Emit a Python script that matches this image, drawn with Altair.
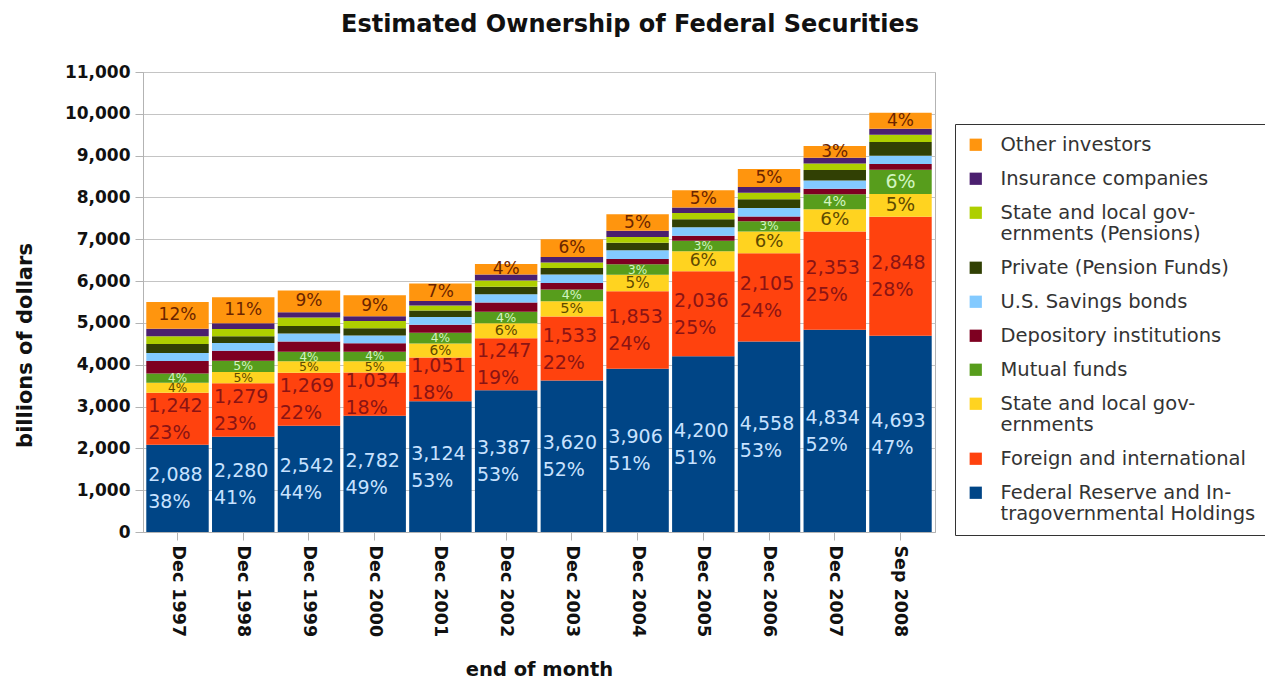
import altair as alt
import pandas as pd

dates = ["Dec 1997", "Dec 1998", "Dec 1999", "Dec 2000", "Dec 2001", "Dec 2002",
         "Dec 2003", "Dec 2004", "Dec 2005", "Dec 2006", "Dec 2007", "Sep 2008"]

# stacking order, bottom -> top
categories = [
    "Federal Reserve and In-\ntragovernmental Holdings",
    "Foreign and international",
    "State and local gov-\nernments",
    "Mutual funds",
    "Depository institutions",
    "U.S. Savings bonds",
    "Private (Pension Funds)",
    "State and local gov-\nernments (Pensions)",
    "Insurance companies",
    "Other investors",
]
colors = ["#004586", "#ff420e", "#ffd320", "#579d1c", "#7e0021",
          "#83caff", "#314004", "#aecf00", "#4b1f6f", "#ff950e"]

fed = [2088, 2280, 2542, 2782, 3124, 3387, 3620, 3906, 4200, 4558, 4834, 4693]
foreign = [1242, 1279, 1269, 1034, 1051, 1247, 1533, 1853, 2036, 2105, 2353, 2848]
state_local = [239, 269, 270, 270, 330, 355, 365, 390, 480, 520, 530, 540]
mutual = [222, 270, 230, 225, 260, 280, 280, 255, 250, 250, 360, 580]
depository = [300, 237, 247, 202, 189, 222, 154, 127, 117, 114, 130, 140]
savings = [187, 187, 186, 185, 190, 195, 204, 205, 205, 202, 197, 195]
private_pension = [219, 160, 185, 175, 150, 180, 160, 180, 190, 210, 250, 330]
state_pension = [186, 170, 200, 175, 124, 150, 130, 140, 150, 155, 160, 172]
insurance = [175, 142, 127, 114, 105, 140, 132, 150, 132, 136, 135, 147]
other = [644, 620, 520, 500, 420, 250, 420, 390, 410, 430, 280, 380]

series = [fed, foreign, state_local, mutual, depository, savings,
          private_pension, state_pension, insurance, other]

rows = []
for i, (cat, vals) in enumerate(zip(categories, series)):
    for d, v in zip(dates, vals):
        rows.append({"date": d, "category": cat, "value": v, "idx": i})
df = pd.DataFrame(rows)

legend_order = categories[::-1]
legend_colors = colors[::-1]

yscale = alt.Scale(domain=[0, 11000], nice=False)
xscale = alt.Scale(paddingInner=0.05, paddingOuter=0.05)

xaxis = alt.Axis(
    labelAngle=90, labelFont="DejaVu Sans", labelFontSize=17.5, labelFontWeight="bold",
    labelColor="#111111", tickSize=8, tickColor="#b3b3b3", domainColor="#b3b3b3",
    labelPadding=5, grid=False,
    titleFont="DejaVu Sans", titleFontSize=19.5, titleFontWeight="bold", titleColor="#111111",
    titleY=137, titleBaseline="middle",
)
yaxis = alt.Axis(
    values=list(range(0, 11001, 1000)), format=",d",
    labelFont="DejaVu Sans", labelFontSize=17, labelFontWeight="bold", labelColor="#111111",
    tickSize=8, tickColor="#b3b3b3", domainColor="#b3b3b3", gridColor="#c4c4c4",
    labelPadding=5,
    titleFont="DejaVu Sans", titleFontSize=21, titleFontWeight="bold", titleColor="#111111",
    titleX=-118, titleY=273, titleBaseline="middle", titleAlign="center", titleAngle=270,
)

base = alt.Chart(df)

bars = base.mark_bar(strokeWidth=0).encode(
    x=alt.X("date:N", sort=dates, scale=xscale, axis=xaxis, title="end of month"),
    y=alt.Y("value:Q", stack="zero", scale=yscale, axis=yaxis, title="billions of dollars"),
    color=alt.Color(
        "category:N",
        scale=alt.Scale(domain=legend_order, range=legend_colors),
        legend=alt.Legend(
            title=None, orient="none", legendX=812, legendY=52, direction="vertical",
            symbolType="square", symbolSize=150, symbolStrokeWidth=0,
            labelFont="DejaVu Sans", labelFontSize=19.5, labelColor="#333333",
            labelLimit=400, labelOffset=15, rowPadding=13, padding=11,
            strokeColor="#333333", fillColor="white",
            labelExpr="split(datum.label, '\\n')",
        ),
    ),
    order=alt.Order("idx:Q", sort="ascending"),
)

lab = base.transform_joinaggregate(
    total="sum(value)", groupby=["date"]
).transform_stack(
    stack="value", groupby=["date"], sort=[alt.SortField("idx", order="ascending")],
    as_=["v0", "v1"],
).transform_calculate(
    mid="(datum.v0 + datum.v1) / 2", pct="datum.value / datum.total"
)

big = lab.transform_filter("datum.idx <= 1").transform_calculate(
    txt="format(datum.value, ',') + '\\n' + format(datum.pct, '.0%')"
).mark_text(
    align="left", baseline="middle", lineBreak="\n", font="DejaVu Sans",
    fontSize=19, lineHeight=27, dx=2, dy=-13,
).encode(
    x=alt.X("date:N", sort=dates, scale=xscale, bandPosition=0, axis=xaxis, title="end of month"),
    y=alt.Y("mid:Q", scale=yscale, axis=yaxis, title="billions of dollars"),
    text="txt:N",
    color=alt.when(alt.datum.idx == 0).then(alt.value("#c8e2ff")).otherwise(alt.value("#8b1414")),
)

midlab = lab.transform_filter("datum.idx == 2 || datum.idx == 3").transform_calculate(
    txt="format(datum.pct, '.0%')"
).mark_text(
    align="center", baseline="middle", font="DejaVu Sans",
).encode(
    x=alt.X("date:N", sort=dates, scale=xscale, axis=xaxis, title="end of month"),
    y=alt.Y("mid:Q", scale=yscale, axis=yaxis, title="billions of dollars"),
    text="txt:N",
    size=alt.Size("value:Q", scale=alt.Scale(domain=[250, 560], range=[12, 19], clamp=True), legend=None),
    color=alt.when(alt.datum.idx == 3).then(alt.value("#d2f5c0")).otherwise(alt.value("#5e4a00")),
)

toplab = lab.transform_filter("datum.idx == 9").transform_calculate(
    txt="format(datum.pct, '.0%')"
).mark_text(
    align="center", baseline="middle", font="DejaVu Sans", fontSize=17, color="#6b2400",
).encode(
    x=alt.X("date:N", sort=dates, scale=xscale, axis=xaxis, title="end of month"),
    y=alt.Y("mid:Q", scale=yscale, axis=yaxis, title="billions of dollars"),
    text="txt:N",
)

chart = alt.layer(bars, big, midlab, toplab).properties(
    width=792, height=460,
    autosize=alt.AutoSizeParams(type="none"),
    padding={"left": 135, "top": 64, "right": 330, "bottom": 149},
    title=alt.Title(
        "Estimated Ownership of Federal Securities",
        font="DejaVu Sans", fontSize=24, fontWeight="bold", color="#111111",
        anchor="middle", dx=91, offset=26,
    ),
).configure_view(stroke="#b3b3b3")

chart.save("out.html", embed_options={"renderer": "svg", "actions": False})
